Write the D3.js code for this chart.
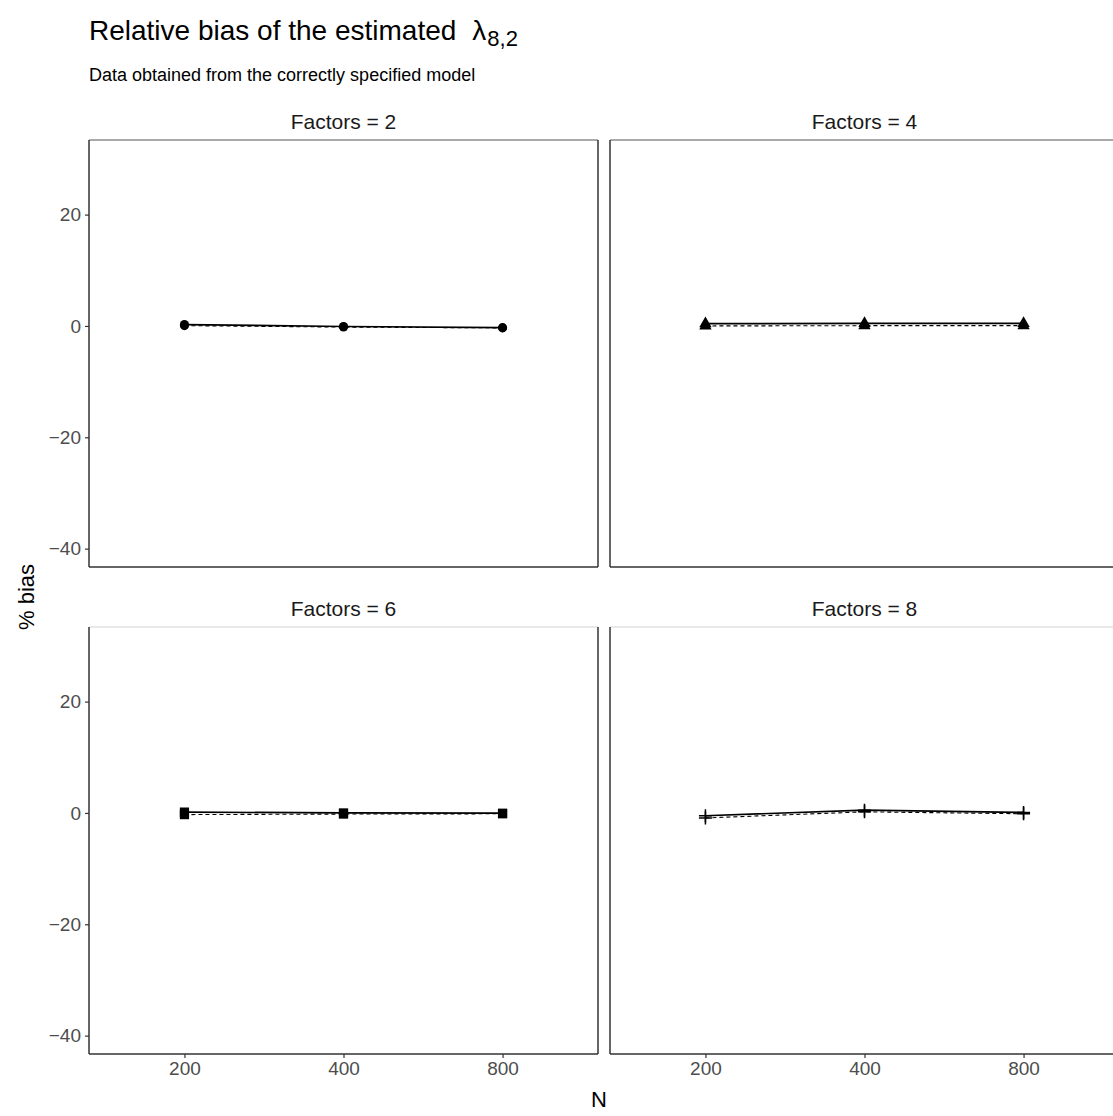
<!DOCTYPE html>
<html lang="en">
<head>
	<meta charset="UTF-8">
	<title>Relative bias</title>
	<script src="https://cdn.jsdelivr.net/npm/d3@7"></script>
	<style>
		body { margin: 0; background: #fff; }
		text { font-family: "Liberation Sans", Arial, sans-serif; }
	</style>
</head>
<body>
	<svg id="grafico" width="1113" height="1116"></svg>
	<script>
	// data
	var nValues = ["200", "400", "800"];
	var factorLabels = ["Factors = 2", "Factors = 4", "Factors = 6", "Factors = 8"];
	var shapes = ["circle", "triangle", "square", "plus"];
	var biasSolid = [
		[0.25, -0.1, -0.3],
		[0.4, 0.45, 0.45],
		[0.15, 0.0, -0.05],
		[-0.5, 0.5, 0.1]
	];
	var biasDashed = [
		[0.05, -0.2, -0.35],
		[0.0, 0.05, 0.05],
		[-0.3, -0.2, -0.15],
		[-0.9, 0.2, -0.15]
	];
	var yTicks = [-40, -20, 0, 20];

	var svg = d3.select("#grafico");

	// title
	var title = svg.append("text").attr("x", 89).attr("y", 40)
		.style("font-size", "28px").attr("fill", "#000");
	title.append("tspan").text("Relative bias of the estimated");
	title.append("tspan").text("λ").attr("dx", 16).style("font-size", "28px");
	title.append("tspan").text("8,2").attr("dy", 6).attr("dx", 1).style("font-size", "22px");

	svg.append("text").attr("x", 89).attr("y", 81)
		.style("font-size", "18px").attr("fill", "#000")
		.text("Data obtained from the correctly specified model");

	var cols = [[89, 598], [610, 1119]];
	var rows = [[140, 567], [627, 1054]];

	var symbolType = {
		circle: d3.symbolCircle,
		triangle: d3.symbolTriangle,
		square: d3.symbolSquare
	};

	factorLabels.forEach(function (lab, i) {
		var c = cols[i % 2], r = rows[Math.floor(i / 2)];
		var x = d3.scalePoint().domain(nValues).range(c).padding(0.6);
		var y = d3.scaleLinear().domain([-43.3, 33.4]).range([r[1], r[0]]);
		var g = svg.append("g");

		// strip label
		g.append("text").attr("x", (c[0] + c[1]) / 2).attr("y", r[0] - 11)
			.attr("text-anchor", "middle").style("font-size", "21px").attr("fill", "#1a1a1a")
			.text(lab);

		// panel border
		g.append("line").attr("x1", c[0]).attr("x2", c[1]).attr("y1", r[0]).attr("y2", r[0])
			.attr("stroke", i < 2 ? "#555" : "#d3d3d3").attr("stroke-width", 1);
		g.append("line").attr("x1", c[1]).attr("x2", c[1]).attr("y1", r[0]).attr("y2", r[1])
			.attr("stroke", "#333").attr("stroke-width", 1.5);
		g.append("line").attr("x1", c[0]).attr("x2", c[0]).attr("y1", r[0]).attr("y2", r[1])
			.attr("stroke", "#333").attr("stroke-width", 1.5);
		g.append("line").attr("x1", c[0]).attr("x2", c[1]).attr("y1", r[1]).attr("y2", r[1])
			.attr("stroke", "#333").attr("stroke-width", 1.5);

		// y axis on left column
		if (i % 2 === 0) {
			var ya = g.append("g").attr("transform", "translate(" + c[0] + ",0)")
				.call(d3.axisLeft(y).tickValues(yTicks).tickSize(4).tickPadding(4)
					.tickFormat(function (d) { return d < 0 ? "\u2212" + Math.abs(d) : d; }));
			ya.select(".domain").remove();
			ya.selectAll("line").attr("stroke", "#333").attr("stroke-width", 1.2);
			ya.selectAll("text").style("font-size", "19px").attr("fill", "#4d4d4d")
				.style("font-family", "Liberation Sans, Arial, sans-serif");
		}
		// x axis on bottom row
		if (i >= 2) {
			var xa = g.append("g").attr("transform", "translate(0," + r[1] + ")")
				.call(d3.axisBottom(x).tickSize(4).tickPadding(4));
			xa.select(".domain").remove();
			xa.selectAll("line").attr("stroke", "#333").attr("stroke-width", 1.2);
			xa.selectAll("text").style("font-size", "19px").attr("fill", "#4d4d4d")
				.style("font-family", "Liberation Sans, Arial, sans-serif");
		}

		var line = d3.line().x(function (d, j) { return x(nValues[j]); }).y(function (d) { return y(d); });

		g.append("path").datum(biasDashed[i]).attr("d", line)
			.attr("fill", "none").attr("stroke", "#000").attr("stroke-width", 1.1)
			.attr("stroke-dasharray", "4,3");
		g.append("path").datum(biasSolid[i]).attr("d", line)
			.attr("fill", "none").attr("stroke", "#000").attr("stroke-width", 1.7);

		[biasSolid[i], biasDashed[i]].forEach(function (vals) {
			vals.forEach(function (v, j) {
				var px = x(nValues[j]), py = y(v);
				if (shapes[i] === "plus") {
					g.append("path").attr("d", "M" + (px - 6.5) + "," + py + "H" + (px + 6.5) + "M" + px + "," + (py - 6.5) + "V" + (py + 6.5))
						.attr("stroke", "#000").attr("stroke-width", 1.5).attr("fill", "none");
				} else {
					var size = shapes[i] === "circle" ? 64 : shapes[i] === "triangle" ? 66 : 85;
					g.append("path").attr("transform", "translate(" + px + "," + py + ")")
						.attr("d", d3.symbol().type(symbolType[shapes[i]]).size(size)())
						.attr("fill", "#000");
				}
			});
		});
	});

	// axis titles
	svg.append("text").attr("transform", "translate(34,597) rotate(-90)")
		.attr("text-anchor", "middle").style("font-size", "22px").attr("fill", "#000").text("% bias");
	svg.append("text").attr("x", 599).attr("y", 1107)
		.attr("text-anchor", "middle").style("font-size", "22px").attr("fill", "#000").text("N");
	</script>
</body>
</html>
